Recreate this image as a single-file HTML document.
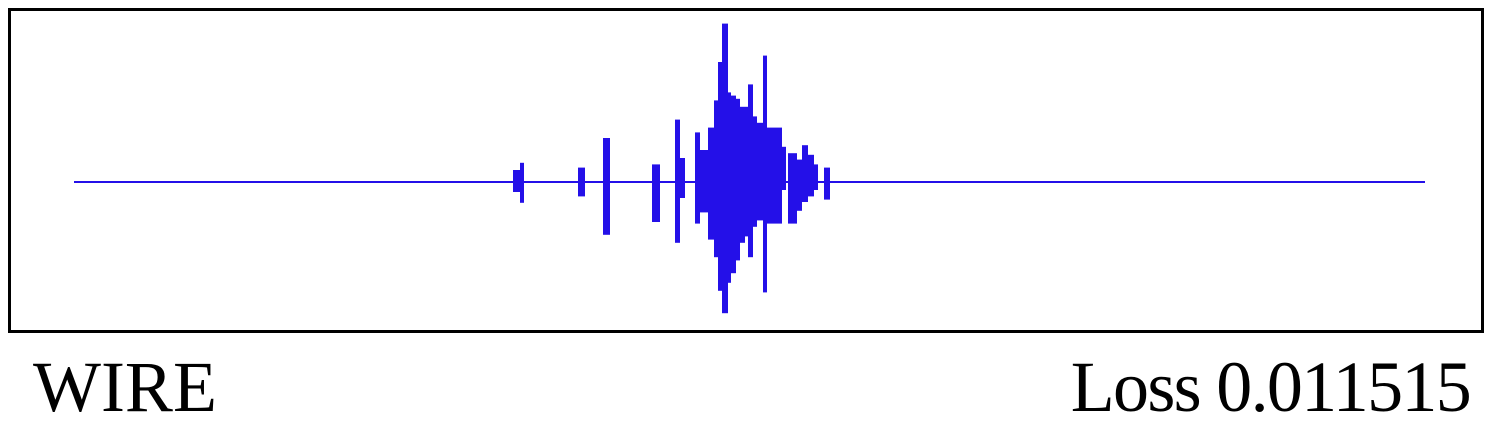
<!DOCTYPE html>
<html><head><meta charset="utf-8">
<style>
html,body{margin:0;padding:0;background:#fff;}
body{width:1492px;height:424px;position:relative;overflow:hidden;font-family:"Liberation Serif",serif;}
#frame{position:absolute;left:8px;top:8px;width:1470px;height:319px;border:3px solid #000;}
.lbl{position:absolute;top:347px;font-size:72px;line-height:80px;color:#000;}
</style></head><body>
<div id="frame"></div>
<svg id="chart" width="1492" height="424" style="position:absolute;left:0;top:0"></svg>
<div class="lbl" style="left:33px">WIRE</div>
<div class="lbl" style="right:22px;letter-spacing:-1.7px">Loss 0.011515</div>
<script>
const segStart = [439,446,504,529,578,601,606,621,626,634,640,644,648,654,657,662,666,671,674,679,683,689,693,708,714,723,728,734,740,750];
const segEnd   = [446,450,511,536,586,606,611,626,634,640,644,648,654,657,662,666,671,674,679,683,689,693,708,712,723,728,734,740,744,756];
const upper    = [0.075,0.12,0.09,0.275,0.11,0.39,0.15,0.31,0.2,0.34,0.51,0.75,0.99,0.56,0.54,0.52,0.47,0.47,0.61,0.41,0.37,0.79,0.34,0.22,0.18,0.14,0.23,0.17,0.11,0.09];
const lower    = [-0.0625,-0.13,-0.09,-0.33,-0.25,-0.38,-0.1,-0.26,-0.19,-0.36,-0.47,-0.68,-0.82,-0.63,-0.57,-0.49,-0.38,-0.34,-0.47,-0.28,-0.24,-0.69,-0.26,-0.05,-0.26,-0.18,-0.125,-0.09,-0.05,-0.11];
const tDomain = [0,1351];
const ns="http://www.w3.org/2000/svg";
const svg=document.getElementById('chart');
const X0=74,X1=1425,Y0=182,AMP=160;
const xs=t=>X0+(t-tDomain[0])/(tDomain[1]-tDomain[0])*(X1-X0);
const ys=a=>Y0-a*AMP;
const color="#2410e8";
const base=document.createElementNS(ns,'line');
base.setAttribute('x1',xs(tDomain[0]));base.setAttribute('x2',xs(tDomain[1]));
base.setAttribute('y1',Y0);base.setAttribute('y2',Y0);
base.setAttribute('stroke',color);base.setAttribute('stroke-width','2');


svg.appendChild(base);
for(let i=0;i<segStart.length;i++){
  const r=document.createElementNS(ns,'rect');
  const x=xs(segStart[i]),w=xs(segEnd[i])-x;
  r.setAttribute('x',x);r.setAttribute('width',w);
  r.setAttribute('y',ys(upper[i]));r.setAttribute('height',ys(lower[i])-ys(upper[i]));
  r.setAttribute('fill',color);
  
  
  svg.appendChild(r);
}
</script>
</body></html>
